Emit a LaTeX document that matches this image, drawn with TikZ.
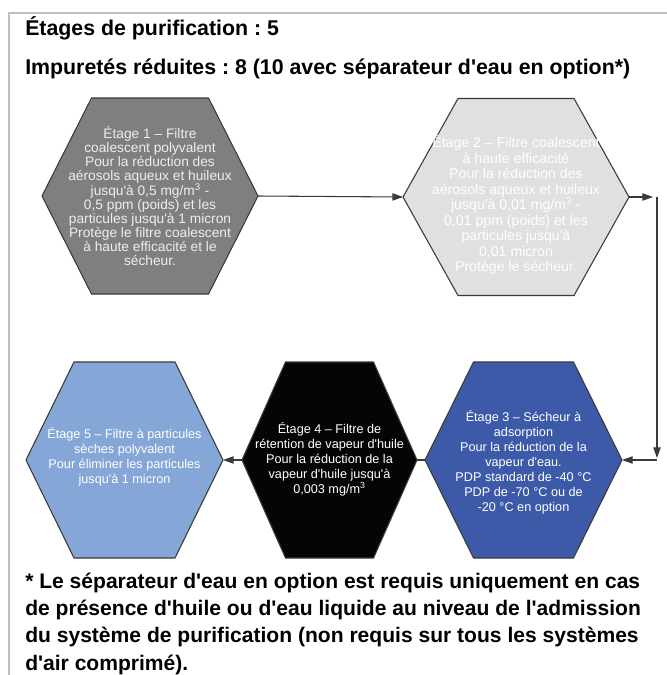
\documentclass[tikz,border=0pt]{standalone}
\usepackage{fontspec}
\setmainfont{Liberation Sans}[Ligatures=TeXOff]
\frenchspacing
\usetikzlibrary{arrows.meta}
\definecolor{hexone}{HTML}{7F7F7F}
\definecolor{hextwo}{HTML}{E0E0E0}
\definecolor{hexthree}{HTML}{3D5AA8}
\definecolor{hexfour}{HTML}{050505}
\definecolor{hexfive}{HTML}{84A7D7}
\definecolor{edgecol}{HTML}{3A3A3A}
\definecolor{framecol}{HTML}{BFBFBF}
\definecolor{lighttext}{HTML}{EEEEEE}
\newcommand{\hexa}[7]{%
  \draw[hexline, fill=#7] (#2-#4,#3) -- (#2-#5,#3-#6) -- (#2+#5,#3-#6) -- (#2+#4,#3)
     -- (#2+#5,#3+#6) -- (#2-#5,#3+#6) -- cycle;
  \coordinate (#1-l) at (#2-#4,#3);
  \coordinate (#1-r) at (#2+#4,#3);
}
\begin{document}
\begin{tikzpicture}[x=0.75pt,y=-0.75pt,
  hexline/.style={draw=edgecol, line width=0.8pt},
  conn/.style={draw=edgecol, line width=0.8pt},
  arr/.style={conn, -{Triangle[length=8pt,width=5.5pt]}},
  hextext/.style={align=center, text=white, inner sep=0pt},
  heading/.style={anchor=base west, inner sep=0pt, font=\bfseries\fontsize{16}{19}\selectfont},
  frame/.style={draw=framecol, line width=1.3pt}]
\useasboundingbox (0,0) rectangle (667,675);
\fill[white] (0,0) rectangle (667,675);
\draw[frame] (9,675) -- (9,13) -- (667,13);

\node[heading] (t1) at (25,35) {Étages de purification : 5};
\node[heading] (t2) at (25,74) {Impuretés réduites : 8 (10 avec séparateur d'eau en option*)};

\hexa{h1}{150}{196}{108}{58.5}{98}{hexone}
\hexa{h2}{516}{197}{113}{58}{98.5}{hextwo}
\hexa{h3}{523.5}{460}{98.5}{50}{98}{hexthree}
\hexa{h4}{329.5}{460}{87.5}{44}{98}{hexfour}
\hexa{h5}{124.5}{460}{98.5}{50.5}{98}{hexfive}

\node[hextext, text=lighttext, font=\fontsize{10.3}{10.45}\selectfont] (s1) at (150,196)
 {Étage 1 – Filtre\\coalescent polyvalent\\Pour la réduction des\\aérosols aqueux et huileux\\jusqu'à 0,5 mg/m\textsuperscript{3} -\\0,5 ppm (poids) et les\\particules jusqu'à 1 micron\\Protège le filtre coalescent\\à haute efficacité et le\\sécheur.};
\node[hextext, font=\fontsize{10.6}{11.6}\selectfont] (s2) at (516,205)
 {Étage 2 – Filtre coalescent\\à haute efficacité\\Pour la réduction des\\aérosols aqueux et huileux\\jusqu'à 0,01 mg/m\textsuperscript{3} -\\0,01 ppm (poids) et les\\particules jusqu'à\\0,01 micron\\Protège le sécheur.};
\node[hextext, font=\fontsize{9.5}{11.25}\selectfont] (s3) at (523.5,462)
 {Étage 3 – Sécheur à\\adsorption\\Pour la réduction de la\\vapeur d'eau.\\PDP standard de -40 °C\\PDP de -70 °C ou de\\-20 °C en option};
\node[hextext, font=\fontsize{9.5}{11.25}\selectfont] (s4) at (329.5,459)
 {Étage 4 – Filtre de\\rétention de vapeur d'huile\\Pour la réduction de la\\vapeur d'huile jusqu'à\\0,003 mg/m\textsuperscript{3}};
\node[hextext, font=\fontsize{9.5}{11.25}\selectfont] (s5) at (124.5,457)
 {Étage 5 – Filtre à particules\\sèches polyvalent\\Pour éliminer les particules\\jusqu'à 1 micron};

\coordinate (c1) at (653,197);
\coordinate (c2) at (657,197);
\coordinate (c3) at (657,458);
\coordinate (c4) at (657,460);

\draw[arr] (h1-r) -- (h2-l);
\draw[arr] (h2-r) -- (c1);
\draw[arr] (c2) -- (c3);
\draw[arr] (c4) -- (h3-r);
\draw[conn] (h3-l) -- (h4-r);
\draw[arr] (h4-l) -- (h5-r);

\node[anchor=base west, inner sep=0pt, align=left, font=\bfseries\fontsize{15.8}{20.5}\selectfont] (fn) at (25,670)
 {* Le séparateur d'eau en option est requis uniquement en cas\\de présence d'huile ou d'eau liquide au niveau de l'admission\\du système de purification (non requis sur tous les systèmes\\d'air comprimé).};
\end{tikzpicture}
\end{document}
